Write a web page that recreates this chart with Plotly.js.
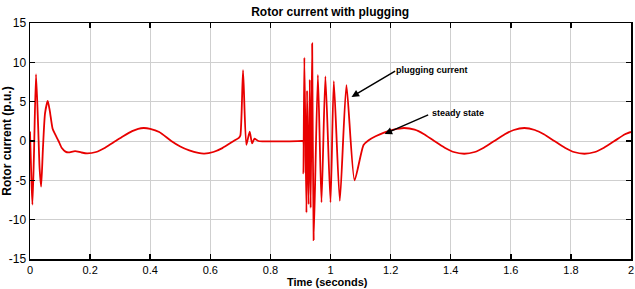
<!DOCTYPE html>
<html><head><meta charset="utf-8">
<script src="https://cdn.plot.ly/plotly-3.0.1.min.js"></script>
<style>html,body{margin:0;padding:0;background:#fff}#c{width:635px;height:289px}</style>
</head><body><div id="c"></div>
<script>
// Start-up transient
const startT = [0, 0.004, 0.008, 0.013, 0.02, 0.027, 0.032, 0.037, 0.043, 0.05, 0.059, 0.066, 0.075, 0.083, 0.095, 0.106, 0.118, 0.128, 0.15, 0.17, 0.19];
const startI = [1.2, -4, -8.1, -2, 8.5, 2, -3.5, -5.8, -1, 3.5, 5.1, 3.8, 1.6, 0.9, 0, -0.9, -1.35, -1.45, -1.28, -1.45, -1.57];
// First running period
const runT = [0.22, 0.25, 0.285, 0.31, 0.34, 0.36, 0.378, 0.40, 0.43, 0.47, 0.50, 0.53, 0.56, 0.58, 0.61, 0.64, 0.678, 0.695, 0.70];
const runI = [-1.4, -0.85, 0, 0.6, 1.25, 1.55, 1.65, 1.55, 1.15, 0, -0.7, -1.2, -1.52, -1.6, -1.4, -0.9, 0, 0.4, 0.7];
// Switching spike and zero interval
const spikeT = [0.709, 0.72, 0.731, 0.739, 0.747, 0.76, 0.905];
const spikeI = [9.0, -0.5, 1.2, -0.3, 0.3, 0, 0];
// Plugging current
const plugT = [0.909, 0.910, 0.913, 0.92, 0.922, 0.927, 0.931, 0.934, 0.939, 0.944, 0.958, 0.97, 0.983, 1.0, 1.011, 1.031, 1.053, 1.08, 1.11, 1.127, 1.15, 1.178];
const plugI = [0, -4.1, 10.6, -9.1, 6.4, -8.05, 7.8, -8.5, 12.4, -12.6, 8.4, -7.8, 8.2, -7.8, 7.6, -7.6, 7.1, -5.0, -0.5, 0.1, 0.6, 1.07];
// Steady state
const steadyT = [1.21, 1.245, 1.28, 1.31, 1.345, 1.38, 1.41, 1.445, 1.48, 1.51, 1.545, 1.58, 1.61, 1.645, 1.68, 1.71, 1.745, 1.78, 1.81, 1.845, 1.88, 1.91, 1.945, 1.98, 2.0];
const steadyI = [1.45, 1.65, 1.45, 0.9, 0, -0.85, -1.4, -1.62, -1.4, -0.85, 0, 0.85, 1.4, 1.65, 1.4, 0.85, 0, -0.85, -1.4, -1.62, -1.4, -0.85, 0, 0.85, 1.15];

const xTicks = [0, 0.2, 0.4, 0.6, 0.8, 1, 1.2, 1.4, 1.6, 1.8, 2];
const yTicks = [-15, -10, -5, 0, 5, 10, 15];

const t = [].concat(startT, runT, spikeT, plugT, steadyT);
const cur = [].concat(startI, runI, spikeI, plugI, steadyI);

const F = 'Liberation Sans Narrow, Arial Narrow, Liberation Sans, Arial, sans-serif';

Plotly.newPlot('c', [{
  x: t, y: cur, type: 'scatter', mode: 'lines',
  line: {color: 'rgb(232,0,0)', width: 1.8, shape: 'spline', smoothing: 0.6}
}], {
  width: 635, height: 289,
  margin: {l: 30, r: 4, t: 23, b: 30},
  paper_bgcolor: '#fff', plot_bgcolor: '#fff',
  showlegend: false,
  title: {text: '<b>Rotor current with plugging</b>', font: {family: F, size: 12, color: '#000'}, x: 0.52, xanchor: 'center', y: 0.975, yanchor: 'top'},
  xaxis: {
    range: [0, 2], tickvals: xTicks, ticktext: xTicks.map(String),
    showgrid: true, gridcolor: '#cfcfcf', gridwidth: 1,
    zeroline: false, showline: true, linecolor: '#000', linewidth: 1.5, mirror: 'ticks',
    ticks: 'inside', ticklen: 5, tickcolor: '#000', tickwidth: 1.5,
    tickfont: {family: F, size: 11, color: '#000'}
  },
  yaxis: {
    range: [-15, 15], tickvals: yTicks, ticktext: yTicks.map(String),
    showgrid: true, gridcolor: '#cfcfcf', gridwidth: 1,
    zeroline: false, showline: true, linecolor: '#000', linewidth: 1.5, mirror: 'ticks',
    ticks: 'inside', ticklen: 5, tickcolor: '#000', tickwidth: 1.5,
    tickfont: {family: F, size: 12, color: '#000'},
    title: {text: '<b>Rotor current (p.u.)</b>', font: {family: F, size: 12, color: '#000'}, standoff: 2}
  },
  annotations: [
    {x: 0.495, y: 0, xref: 'paper', yref: 'paper', yanchor: 'bottom', xanchor: 'center', yshift: -30, borderpad: 0, text: '<b>Time (seconds)</b>', showarrow: false, font: {family: F, size: 11, color: '#000'}},
    {x: 1.07, y: 5.6, ax: 1.22, ay: 9.0, xref: 'x', yref: 'y', axref: 'x', ayref: 'y', text: '', showarrow: true, arrowhead: 2, arrowsize: 1, arrowwidth: 1.5, arrowcolor: '#000'},
    {x: 1.21, y: 9.0, xref: 'x', yref: 'y', text: '<b>plugging current</b>', showarrow: false, xanchor: 'left', yanchor: 'middle', font: {family: F, size: 9, color: '#000'}},
    {x: 1.18, y: 0.9, ax: 1.33, ay: 3.4, xref: 'x', yref: 'y', axref: 'x', ayref: 'y', text: '', showarrow: true, arrowhead: 2, arrowsize: 1, arrowwidth: 1.5, arrowcolor: '#000'},
    {x: 1.33, y: 3.5, xref: 'x', yref: 'y', text: '<b>steady state</b>', showarrow: false, xanchor: 'left', yanchor: 'middle', font: {family: F, size: 9, color: '#000'}}
  ]
}, {staticPlot: true});
</script></body></html>
